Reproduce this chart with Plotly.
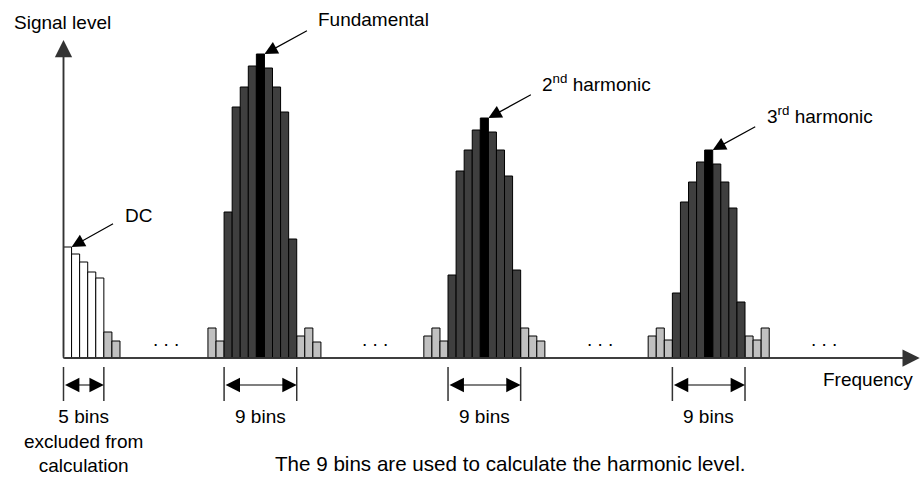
import plotly.graph_objects as go

# ---------------- data (signal levels in arbitrary units, one value per bin) -------------
dc_levels = [111, 104, 96, 86, 80]          # 5 DC bins excluded from calculation
dc_tail = [26, 17]                          # leakage bins after DC

group_names = ["Fundamental", "2<sup>nd</sup> harmonic", "3<sup>rd</sup> harmonic"]
group_main_start = [19.9, 47.65, 75.45]     # bin position of the first of the 9 bins

fund_left = [30, 17]
fund_main = [146, 251, 271, 292, 304, 290, 271, 246, 119]
fund_right = [22, 30, 16]

h2_left = [22, 30, 17]
h2_main = [83, 187, 208, 228, 240, 226, 208, 182, 88]
h2_right = [30, 22, 17]

h3_left = [22, 30, 18]
h3_main = [65, 156, 176, 196, 208, 194, 176, 150, 56]
h3_right = [22, 18, 30]

ellipsis_x = [12.7, 38.6, 66.5, 94.2]
ellipsis_level = 14

group_left = [fund_left, h2_left, h3_left]
group_main = [fund_main, h2_main, h3_main]
group_right = [fund_right, h2_right, h3_right]

X_RANGE = [-7.869, 106.63]
Y_RANGE = [-123, 358]
Y_AXIS_TOP = 318
X_AXIS_END = 106.1

FONT = "Liberation Sans, Arial, sans-serif"
FS = 19
GRAY = "#c0c0c0"
DARK = "#3f3f3f"
AXC = "#333333"

# ---------------- build bars ----------------
gray_x, gray_y, dark_x, dark_y, peak_x, peak_y = [], [], [], [], [], []
dc_x = [i + 0.5 for i in range(len(dc_levels))]
for k, v in enumerate(dc_tail):
    gray_x.append(len(dc_levels) + k + 0.5)
    gray_y.append(v)

peaks = []
for s, left, main, right in zip(group_main_start, group_left, group_main, group_right):
    for k, v in enumerate(left):
        gray_x.append(s - len(left) + k + 0.5)
        gray_y.append(v)
    for k, v in enumerate(main):
        if k == len(main) // 2:
            peak_x.append(s + k + 0.5)
            peak_y.append(v)
            peaks.append((s + k + 1, v))
        else:
            dark_x.append(s + k + 0.5)
            dark_y.append(v)
    for k, v in enumerate(right):
        gray_x.append(s + len(main) + k + 0.5)
        gray_y.append(v)

line = dict(color="black", width=1)
fig = go.Figure()
fig.add_trace(go.Bar(x=dc_x, y=dc_levels, width=1, marker=dict(color="white", line=line)))
fig.add_trace(go.Bar(x=gray_x, y=gray_y, width=1, marker=dict(color=GRAY, line=line)))
fig.add_trace(go.Bar(x=dark_x, y=dark_y, width=1, marker=dict(color=DARK, line=line)))
fig.add_trace(go.Bar(x=peak_x, y=peak_y, width=1, marker=dict(color="black", line=line)))

ann = []
# axes with arrowheads
ann.append(dict(x=0, y=Y_AXIS_TOP, ax=0, ay=0, axref="x", ayref="y", xref="x", yref="y",
                text="", showarrow=True, arrowhead=2, arrowsize=2.3, arrowwidth=1.5,
                arrowcolor=AXC))
ann.append(dict(x=X_AXIS_END, y=0, ax=0, ay=0, axref="x", ayref="y", xref="x", yref="y",
                text="", showarrow=True, arrowhead=2, arrowsize=2.3, arrowwidth=1.5,
                arrowcolor=AXC))

# pointer arrows and labels
ann.append(dict(x=1, y=dc_levels[0], ax=43, ay=-24, xref="x", yref="y", text="",
                showarrow=True, arrowhead=2, arrowsize=2.2, arrowwidth=1.2, arrowcolor="black"))
ann.append(dict(x=1, y=dc_levels[0], xref="x", yref="y", text="DC", showarrow=False,
                xanchor="left", yanchor="middle", xshift=51, yshift=32,
                font=dict(size=FS, family=FONT, color="black")))
for (px, py), name in zip(peaks, group_names):
    ann.append(dict(x=px, y=py, ax=44, ay=-24, xref="x", yref="y", text="",
                    showarrow=True, arrowhead=2, arrowsize=2.2, arrowwidth=1.2,
                    arrowcolor="black"))
    ann.append(dict(x=px, y=py, xref="x", yref="y", text=name, showarrow=False,
                    xanchor="left", yanchor="middle", xshift=52, yshift=35,
                    font=dict(size=FS, family=FONT, color="black")))

# ellipses
for ex in ellipsis_x:
    ann.append(dict(x=ex, y=ellipsis_level, xref="x", yref="y", text=". . .", showarrow=False,
                    xanchor="center", yanchor="middle", yshift=5,
                    font=dict(size=FS, family=FONT, color="black")))

# brackets
shapes = []
brackets = [(0, len(dc_levels), "5 bins<br>excluded from<br>calculation")]
for s, main in zip(group_main_start, group_main):
    brackets.append((s, s + len(main), "9 bins"))
for a, b, label in brackets:
    for xx in (a, b):
        shapes.append(dict(type="line", x0=xx, x1=xx, y0=-9, y1=-43, xref="x", yref="y",
                           line=dict(color=AXC, width=1.5)))
    ann.append(dict(x=b, y=-27, ax=a, ay=-27, axref="x", ayref="y", xref="x", yref="y",
                    text="", showarrow=True, arrowhead=2, arrowside="end+start",
                    arrowsize=2.4, arrowwidth=1.2, arrowcolor="black"))
    ann.append(dict(x=(a + b) / 2, y=-46, xref="x", yref="y", text=label, showarrow=False,
                    xanchor="center", yanchor="top", align="center",
                    font=dict(size=FS, family=FONT, color="black")))

# axis titles and caption
ann.append(dict(x=12 / 924, y=1 - 22 / 481, xref="paper", yref="paper", text="Signal level",
                showarrow=False, xanchor="left", yanchor="middle",
                font=dict(size=FS, family=FONT, color="black")))
ann.append(dict(x=821 / 924, y=1 - 379 / 481, xref="paper", yref="paper", text="Frequency",
                showarrow=False, xanchor="left", yanchor="middle",
                font=dict(size=FS, family=FONT, color="black")))
ann.append(dict(x=510 / 924, y=1 - 463 / 481, xref="paper", yref="paper",
                text="The 9 bins are used to calculate the harmonic level.",
                showarrow=False, xanchor="center", yanchor="middle",
                font=dict(size=20.6, family=FONT, color="black")))

# axis lines
shapes.append(dict(type="line", x0=0, x1=0, y0=0, y1=Y_AXIS_TOP - 6, xref="x", yref="y",
                   line=dict(color=AXC, width=1.5)))
shapes.append(dict(type="line", x0=0, x1=X_AXIS_END - 0.7, y0=0, y1=0, xref="x", yref="y",
                   line=dict(color=AXC, width=1.5)))

fig.update_layout(
    width=924, height=481, margin=dict(l=0, r=0, t=0, b=0),
    paper_bgcolor="white", plot_bgcolor="white", showlegend=False,
    barmode="overlay", annotations=ann, shapes=shapes,
    xaxis=dict(range=X_RANGE, visible=False, fixedrange=True),
    yaxis=dict(range=Y_RANGE, visible=False, fixedrange=True),
    font=dict(family=FONT, size=FS, color="black"),
)
fig.write_html(
    "out.html",
    config={"displayModeBar": False},
    post_script="document.body.style.margin='0px';document.body.style.overflow='hidden';",
)
